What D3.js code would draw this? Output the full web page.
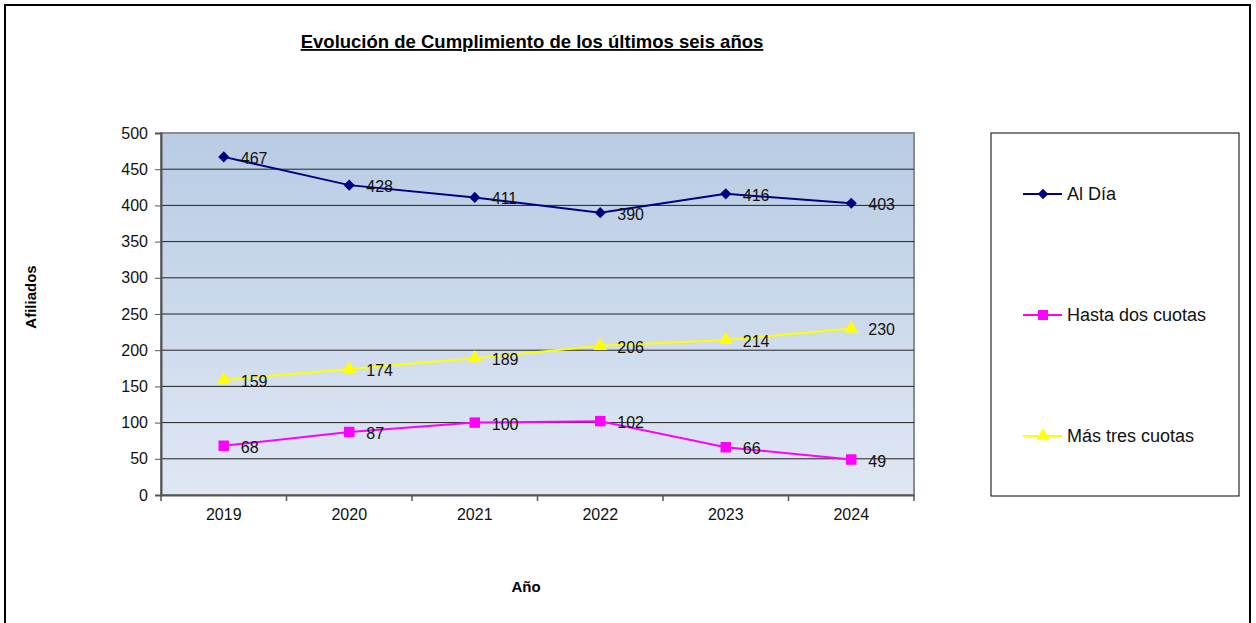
<!DOCTYPE html>
<html>
<head>
<meta charset="utf-8">
<script src="https://cdn.jsdelivr.net/npm/d3@7"></script>
<style>
  body { margin: 0; background: #fff; }
  svg { font-family: "Liberation Sans", Arial, sans-serif; }
</style>
</head>
<body>
<div id="chart"></div>
<script>
// data
const years = ["2019", "2020", "2021", "2022", "2023", "2024"]
const alDia = [467, 428, 411, 390, 416, 403]
const hastaDos = [68, 87, 100, 102, 66, 49]
const masTres = [159, 174, 189, 206, 214, 230]
const yTicks = [0, 50, 100, 150, 200, 250, 300, 350, 400, 450, 500]

const series = [
  {name: "Al Día", values: alDia, color: "#000080", shape: d3.symbolSquare, size: 62, rot: 45},
  {name: "Hasta dos cuotas", values: hastaDos, color: "#ff00ff", shape: d3.symbolSquare, size: 110, rot: 0},
  {name: "Más tres cuotas", values: masTres, color: "#ffff00", shape: d3.symbolTriangle, size: 85, rot: 0}
]

const W = 1256, H = 623
const plot = {left: 161, right: 914, top: 133, bottom: 495}

const svg = d3.select("#chart").append("svg")
  .attr("width", W).attr("height", H)

// outer frame
svg.append("rect")
  .attr("x", 5).attr("y", 5).attr("width", 1245).attr("height", 640)
  .attr("fill", "none").attr("stroke", "#000").attr("stroke-width", 2)

const x = d3.scaleBand().domain(years).range([plot.left, plot.right])
const y = d3.scaleLinear().domain([0, 500]).range([plot.bottom, plot.top])

const defs = svg.append("defs")
const grad = defs.append("linearGradient").attr("id", "bg")
  .attr("x1", 0).attr("y1", 0).attr("x2", 0).attr("y2", 1)
grad.append("stop").attr("offset", "0%").attr("stop-color", "#b8cce4")
grad.append("stop").attr("offset", "100%").attr("stop-color", "#e0e7f4")

svg.append("rect")
  .attr("x", plot.left).attr("y", plot.top)
  .attr("width", plot.right - plot.left).attr("height", plot.bottom - plot.top)
  .attr("fill", "url(#bg)")
  .attr("stroke", "#8c8c8c").attr("stroke-width", 2)

// grid lines
svg.append("g").selectAll("line")
  .data(yTicks.filter(d => d > 0 && d < 500))
  .enter().append("line")
  .attr("x1", plot.left).attr("x2", plot.right)
  .attr("y1", d => y(d)).attr("y2", d => y(d))
  .attr("stroke", "#222").attr("stroke-width", 1)

// y axis
const yAxis = svg.append("g")
  .attr("transform", `translate(${plot.left},0)`)
  .call(d3.axisLeft(y).tickValues(yTicks).tickSize(6).tickPadding(7))
yAxis.select(".domain").attr("stroke", "#555").attr("stroke-width", 2)
yAxis.selectAll(".tick line").attr("stroke", "#555")
yAxis.selectAll("text").attr("font-size", 16).attr("fill", "#111")
  .attr("font-family", "Liberation Sans, Arial, sans-serif")

// x axis: ticks at category boundaries
const xAxis = svg.append("g")
  .attr("transform", `translate(0,${plot.bottom})`)
  .call(d3.axisBottom(x).tickSize(0).tickPadding(14))
xAxis.select(".domain").attr("stroke", "#555").attr("stroke-width", 2)
xAxis.selectAll("text").attr("font-size", 16).attr("fill", "#111")
  .attr("font-family", "Liberation Sans, Arial, sans-serif")
const bounds = years.map(d => x(d)).concat([plot.right])
xAxis.selectAll(".bound").data(bounds).enter().append("line")
  .attr("class", "bound")
  .attr("x1", d => d).attr("x2", d => d)
  .attr("y1", 0).attr("y2", 6)
  .attr("stroke", "#555").attr("stroke-width", 1.5)

const cx = d => x(d) + x.bandwidth() / 2
const line = d3.line().x(d => cx(d.year)).y(d => y(d.v))

series.forEach(s => {
  const pts = years.map((yr, i) => ({year: yr, v: s.values[i]}))
  const g = svg.append("g")
  g.append("path").datum(pts)
    .attr("d", line).attr("fill", "none")
    .attr("stroke", s.color).attr("stroke-width", 2)
  g.selectAll("path.m").data(pts).enter().append("path")
    .attr("class", "m")
    .attr("d", d3.symbol().type(s.shape).size(s.size))
    .attr("transform", d => `translate(${cx(d.year)},${y(d.v)}) rotate(${s.rot})`)
    .attr("fill", s.color)
  g.selectAll("text").data(pts).enter().append("text")
    .attr("x", d => cx(d.year) + 17)
    .attr("y", d => y(d.v) + 7)
    .attr("font-size", 16).attr("fill", "#111")
    .text(d => d.v)
})

// title
svg.append("text")
  .attr("x", 532).attr("y", 48)
  .attr("text-anchor", "middle")
  .attr("font-size", 18.5).attr("font-weight", "bold")
  .attr("text-decoration", "underline")
  .text("Evolución de Cumplimiento de los últimos seis años")

// axis titles
svg.append("text")
  .attr("transform", "translate(36,297) rotate(-90)")
  .attr("text-anchor", "middle")
  .attr("font-size", 15).attr("font-weight", "bold")
  .text("Afiliados")
svg.append("text")
  .attr("x", 526).attr("y", 592)
  .attr("text-anchor", "middle")
  .attr("font-size", 15).attr("font-weight", "bold")
  .text("Año")

// legend
const leg = svg.append("g")
leg.append("rect")
  .attr("x", 991).attr("y", 133).attr("width", 248).attr("height", 363)
  .attr("fill", "#fff").attr("stroke", "#000").attr("stroke-width", 1)
const legY = [194, 315, 436]
series.forEach((s, i) => {
  const g = leg.append("g").attr("transform", `translate(0,${legY[i]})`)
  g.append("line").attr("x1", 1023).attr("x2", 1062)
    .attr("stroke", s.color).attr("stroke-width", 2)
  g.append("path")
    .attr("d", d3.symbol().type(s.shape).size(s.size * 0.9))
    .attr("transform", `translate(1043,0) rotate(${s.rot})`)
    .attr("fill", s.color)
  g.append("text").attr("x", 1067).attr("y", 6)
    .attr("font-size", 18).attr("fill", "#111")
    .text(s.name)
})
</script>
</body>
</html>
